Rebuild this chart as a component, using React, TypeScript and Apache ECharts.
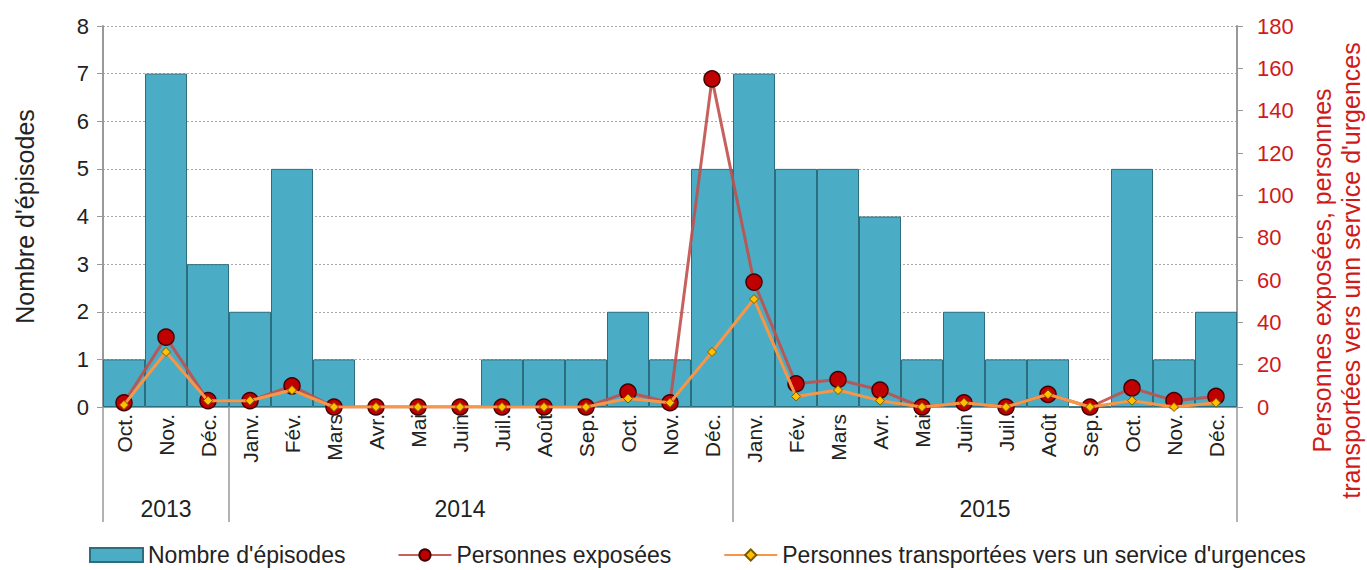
import React, { useEffect, useRef } from "react";
import * as echarts from "echarts";

const months = [
  "Oct.", "Nov.", "Déc.",
  "Janv.", "Fév.", "Mars", "Avr.", "Mai", "Juin", "Juil.", "Août", "Sep.", "Oct.", "Nov.", "Déc.",
  "Janv.", "Fév.", "Mars", "Avr.", "Mai", "Juin", "Juil.", "Août", "Sep.", "Oct.", "Nov.", "Déc.",
];
const episodes = [1, 7, 3, 2, 5, 1, 0, 0, 0, 1, 1, 1, 2, 1, 5, 7, 5, 5, 4, 1, 2, 1, 1, 0, 5, 1, 2];
const exposed = [2, 33, 3, 3, 10, 0, 0, 0, 0, 0, 0, 0, 7, 2, 155, 59, 11, 13, 8, 0, 2, 0, 6, 0, 9, 3, 5];
const transported = [1, 26, 3, 3, 8, 0, 0, 0, 0, 0, 0, 0, 4, 2, 26, 51, 5, 8, 3, 0, 2, 0, 6, 0, 3, 0, 2];
const years = ["2013", "2014", "2015"];
const yearCenters = [1.5, 8.5, 21];
const yearBounds = [0, 3, 15, 27];

const FONT = "'Liberation Sans Narrow', 'Liberation Sans', Arial, sans-serif";

export default function App() {
  const ref = useRef<HTMLDivElement>(null);
  useEffect(() => {
    const chart = echarts.init(ref.current!, null, { renderer: "svg" });
    chart.setOption({
      animation: false,
      textStyle: { fontFamily: FONT },
      grid: { left: 103, right: 130, top: 26, bottom: 163, containLabel: false, outerBoundsMode: "none" },
      legend: {
        top: 539,
        left: 85,
        padding: 4,
        itemGap: 52,
        itemWidth: 53,
        itemHeight: 14,
        textStyle: { fontSize: 23, lineHeight: 24, color: "#222", fontFamily: FONT },
        data: [
          { name: "Nombre d'épisodes", icon: "rect" },
          { name: "Personnes exposées" },
          { name: "Personnes transportées vers un service d'urgences" },
        ],
      },
      xAxis: [
        {
          type: "category",
          data: months,
          boundaryGap: true,
          axisLine: { lineStyle: { color: "#999", width: 2 } },
          axisTick: { show: false },
          axisLabel: { rotate: 90, margin: 7, fontSize: 21, color: "#222", interval: 0 },
        },
        {
          type: "value",
          min: 0,
          max: 27,
          position: "bottom",
          axisLine: { show: false },
          splitLine: { show: false },
          axisTick: { show: true, length: 115, customValues: yearBounds, lineStyle: { color: "#999", width: 1.5 } },
          axisLabel: {
            customValues: yearCenters,
            margin: 90,
            fontSize: 23,
            color: "#222",
            formatter: (v: number) => {
              const i = yearCenters.indexOf(v);
              return i >= 0 ? years[i] : "";
            },
          },
        },
      ],
      yAxis: [
        {
          type: "value",
          min: 0,
          max: 8,
          interval: 1,
          name: "Nombre d'épisodes",
          nameLocation: "middle",
          nameGap: 66,
          nameRotate: 90,
          nameTextStyle: { fontSize: 25, color: "#222" },
          axisLine: { show: true, lineStyle: { color: "#999", width: 2 } },
          axisTick: { show: true, length: 6, lineStyle: { color: "#999" } },
          axisLabel: { fontSize: 22, color: "#222", margin: 14 },
          splitLine: { show: true, lineStyle: { color: "#aaa", type: [2, 2], width: 1 } },
        },
        {
          type: "value",
          min: 0,
          max: 180,
          interval: 20,
          position: "right",
          name: "Personnes exposées, personnes\ntransportées vers unn service d'urgences",
          nameLocation: "middle",
          nameGap: 70,
          nameRotate: 90,
          nameTextStyle: { fontSize: 25, color: "#d01a1a", lineHeight: 29, padding: [0, 108, 0, 0] },
          axisLine: { show: true, lineStyle: { color: "#999", width: 2 } },
          axisTick: { show: true, length: 6, lineStyle: { color: "#999" } },
          axisLabel: { fontSize: 22, color: "#d01a1a", margin: 20 },
          splitLine: { show: false },
        },
      ],
      series: [
        {
          name: "Nombre d'épisodes",
          type: "bar",
          data: episodes,
          xAxisIndex: 0,
          yAxisIndex: 0,
          barCategoryGap: "0%",
          itemStyle: { color: "#4bacc6", borderColor: "#2d6e7e", borderWidth: 1 },
        },
        {
          name: "Personnes exposées",
          type: "line",
          data: exposed,
          xAxisIndex: 0,
          yAxisIndex: 1,
          symbol: "circle",
          symbolSize: 16,
          lineStyle: { color: "#c0504d", width: 3, opacity: 0.9 },
          itemStyle: { color: "#c00000", borderColor: "#400", borderWidth: 1.5 },
          z: 3,
        },
        {
          name: "Personnes transportées vers un service d'urgences",
          type: "line",
          data: transported,
          xAxisIndex: 0,
          yAxisIndex: 1,
          symbol: "diamond",
          symbolSize: 9,
          lineStyle: { color: "#f79646", width: 3 },
          itemStyle: { color: "#ffc000", borderColor: "#7a5a00", borderWidth: 1 },
          z: 4,
        },
      ],
    });
    return () => chart.dispose();
  }, []);
  return <div ref={ref} style={{ position: "absolute", left: 0, top: 0, width: 1367, height: 570 }} />;
}
